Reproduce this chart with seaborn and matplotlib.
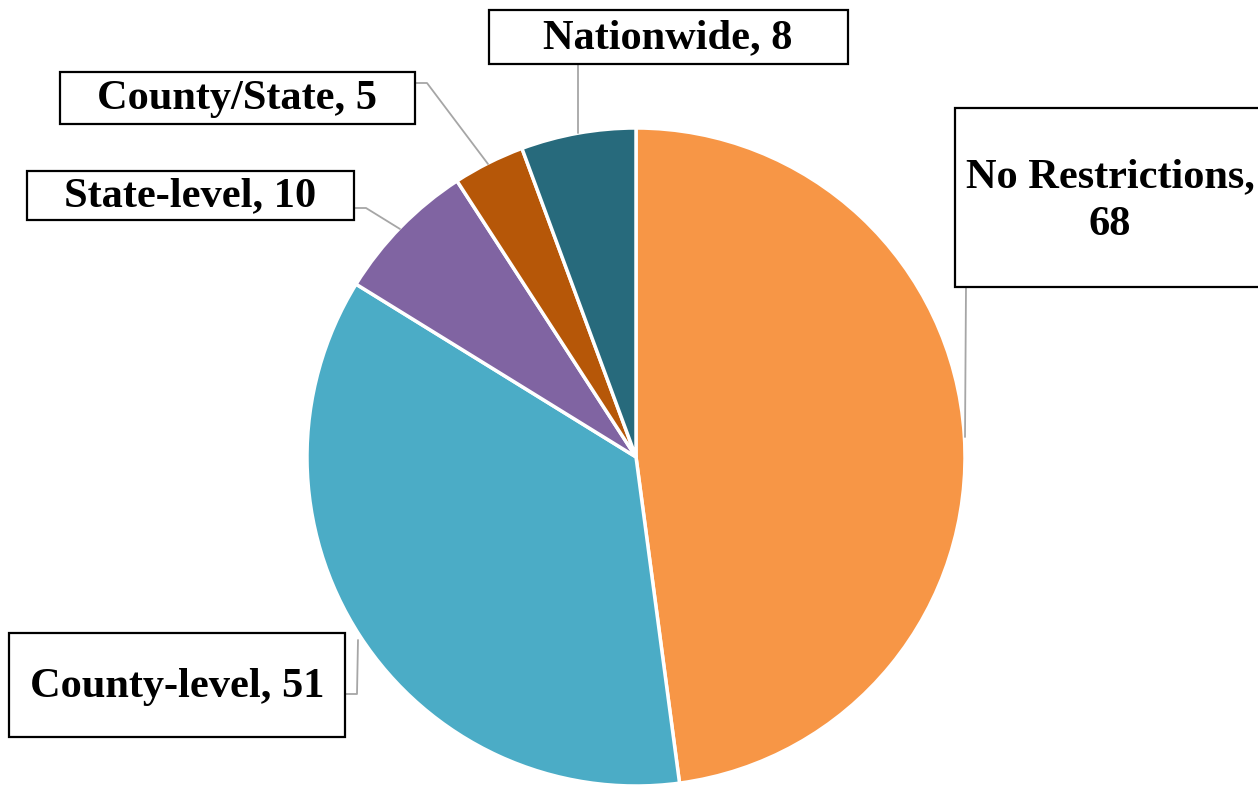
import matplotlib
matplotlib.use("Agg")
import matplotlib.pyplot as plt
import seaborn as sns
from matplotlib.patches import Rectangle

sns.set_theme(style="white")
plt.rcParams['font.family'] = ['Liberation Serif', 'DejaVu Serif']

categories = ["No Restrictions", "County-level", "State-level", "County/State", "Nationwide"]
values = [68, 51, 10, 5, 8]
colors = ["#F79646", "#4BACC6", "#8064A2", "#B65708", "#276A7C"]

W, H = 1258, 786
fig = plt.figure(figsize=(W / 100, H / 100), dpi=100)
ax = fig.add_axes([0, 0, 1, 1])
ax.set_xlim(0, W)
ax.set_ylim(0, H)
ax.set_aspect('equal')
ax.axis('off')

def fy(y):
    return H - y

ax.pie(values, colors=colors, startangle=90, counterclock=False,
       center=(636, fy(457)), radius=329, frame=True,
       wedgeprops=dict(edgecolor="white", linewidth=2.5))
ax.set_xlim(0, W)
ax.set_ylim(0, H)
ax.axis('off')

labels = [f"{c},\n{v}" if c == "No Restrictions" else f"{c}, {v}" for c, v in zip(categories, values)]

# box: (x0, y0, x1, y1) in pixel coords (top-left origin), text center, leader polyline
boxes = {
    "No Restrictions": ((955, 108, 1275, 287), (1110, 201), [(966, 287), (965, 437)]),
    "County-level": ((9, 633, 345, 737), (177, 687), [(345, 694), (357, 694), (358, 640)]),
    "State-level": ((27, 171, 354, 220), (190, 196), [(354, 208), (366, 208), (400, 229)]),
    "County/State": ((60, 72, 415, 124), (237, 99), [(415, 83), (427, 83), (488, 164)]),
    "Nationwide": ((489, 10, 848, 64), (668, 38), [(578, 64), (578, 133)]),
}

for cat, lab in zip(categories, labels):
    (x0, y0, x1, y1), (tx, ty), line = boxes[cat]
    xs = [p[0] for p in line]
    ys = [fy(p[1]) for p in line]
    ax.plot(xs, ys, color="#A6A6A6", lw=1.3, zorder=1, clip_on=False)
    ax.add_patch(Rectangle((x0, fy(y1)), x1 - x0, y1 - y0, facecolor="white",
                           edgecolor="black", lw=1.6, zorder=3, clip_on=False))
    ax.text(tx, fy(ty), lab, ha="center", va="center", fontsize=30.5,
            fontweight="bold", color="black", zorder=4, linespacing=1.32)

fig.savefig("out.png", dpi=100)
